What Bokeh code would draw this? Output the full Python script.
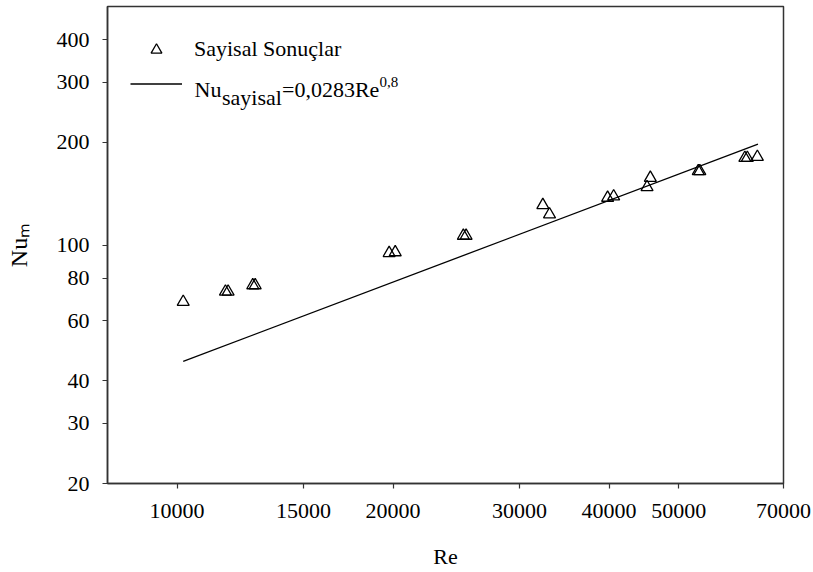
from bokeh.plotting import figure
from bokeh.models import (FixedTicker, CustomJSTickFormatter, Legend, LegendItem,
                          Label, Range1d)
from bokeh.embed import file_html
from bokeh.resources import INLINE

# ---- data ----
re_sim = [10200, 11680, 11780, 12750, 12850, 19750, 20140, 25060, 25280,
          32340, 33040, 39810, 40590, 45660, 45180, 53250, 53520,
          61840, 62330, 64370]
nu_sim = [68.1, 73.0, 73.0, 76.2, 76.2, 94.7, 95.2, 106.4, 106.4,
          130.9, 122.9, 137.5, 138.8, 157.3, 147.7, 164.6, 164.6,
          180.0, 180.0, 181.2]

# correlation line Nu = 0.0283 Re^0.8, end points
re_fit = [10200, 64500]
nu_fit = [45.6, 197.5]

x_ticks = [10000, 15000, 20000, 30000, 40000, 50000, 70000]
y_ticks = [20, 30, 40, 60, 80, 100, 200, 300, 400]

legend_label_1 = "Sayisal Sonuçlar"
FONT = "Liberation Serif"
INK = "#333333"

p = figure(width=813, height=572, x_axis_type="log", y_axis_type="log",
           x_range=Range1d(8000, 70000), y_range=Range1d(20, 500),
           output_backend="svg", toolbar_location=None,
           min_border_left=107, min_border_right=30,
           min_border_top=6, min_border_bottom=89)

p.xgrid.visible = False
p.ygrid.visible = False
p.background_fill_color = "white"
p.border_fill_color = "white"
p.outline_line_color = INK
p.outline_line_width = 1.5
p.outline_line_alpha = 1.0

fmt = CustomJSTickFormatter(code="return tick.toFixed(0);")
for ax, ticks in ((p.xaxis, x_ticks), (p.yaxis, y_ticks)):
    ax.ticker = FixedTicker(ticks=ticks, minor_ticks=[])
    ax.formatter = fmt
    ax.major_tick_out = 5
    ax.major_tick_in = 0
    ax.minor_tick_out = 0
    ax.minor_tick_in = 0
    ax.major_label_text_font = FONT
    ax.major_label_text_font_size = "22px"
    ax.major_label_text_color = "black"
    ax.axis_line_color = INK
    ax.axis_line_width = 1.5
    ax.major_tick_line_color = INK
    ax.major_tick_line_width = 1.2
    ax.axis_label_text_font = FONT
    ax.axis_label_text_font_style = "normal"
    ax.axis_label_text_color = "black"

p.xaxis.major_label_standoff = 15
p.yaxis.major_label_standoff = 13

p.xaxis.axis_label = "Re"
p.xaxis.axis_label_text_font_size = "22px"
p.xaxis.axis_label_standoff = 23

p.yaxis.axis_label = "Nu\u2098"
p.yaxis.axis_label_text_font_size = "24px"
p.yaxis.axis_label_standoff = 22

r_pts = p.scatter(re_sim, nu_sim, marker="triangle", size=12,
                  fill_alpha=0, line_color="black", line_width=1.3)
r_fit = p.line(re_fit, nu_fit, line_color="black", line_width=1.3)

legend = Legend(items=[LegendItem(label=legend_label_1, renderers=[r_pts]),
                       LegendItem(label=" ", renderers=[r_fit])],
                location=(23, 383), glyph_width=52, glyph_height=27,
                label_height=34, spacing=0, padding=0, margin=0,
                border_line_color=None, background_fill_alpha=0,
                label_standoff=12, label_text_font=FONT,
                label_text_font_size="22px", label_text_color="black")
p.add_layout(legend)

def lab(x, y, text, size, align="left"):
    p.add_layout(Label(x=x, y=y, x_units="screen", y_units="screen",
                       text=text, text_font=FONT, text_font_size=size,
                       text_color="black", text_baseline="alphabetic",
                       text_align=align))

# legend formula text: Nu_sayisal = 0,0283 Re^0,8
lab(87, 393.7, "Nu", "22px")
lab(114.5, 386.3, "sayisal", "22px")
lab(174.5, 393.7, "=0,0283Re", "22px")
lab(272, 402, "0,8", "15px")

open("out.html", "w").write(file_html(p, INLINE))
